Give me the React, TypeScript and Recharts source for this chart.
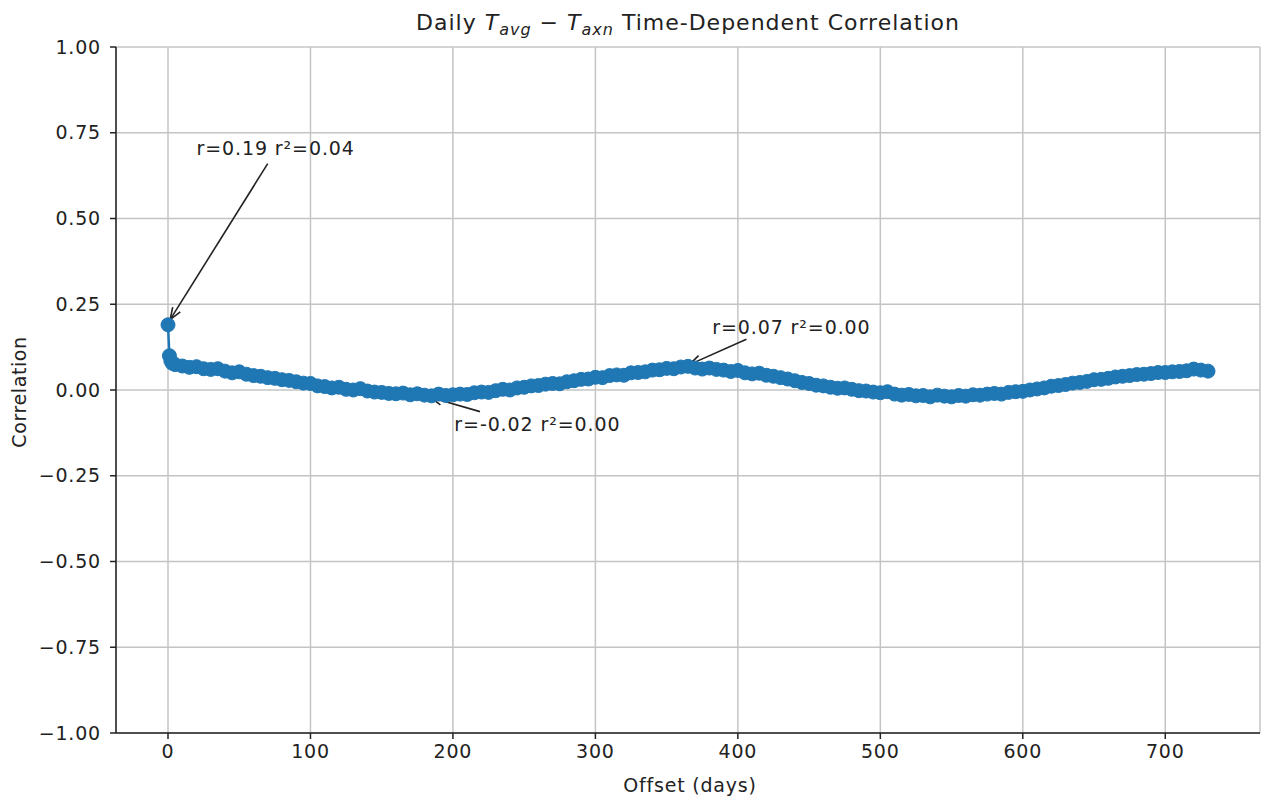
import React from "react";
import {
  CartesianGrid,
  Line,
  LineChart,
  ReferenceDot,
  ReferenceLine,
  XAxis,
  YAxis,
} from "recharts";

// offset in days, sampled from the plotted curve
const offsets = [
  0, 1, 2, 3,
  5, 10, 15, 20, 25, 30, 35, 40, 45, 50,
  55, 60, 65, 70, 75, 80, 85, 90, 95, 100,
  105, 110, 115, 120, 125, 130, 135, 140, 145, 150,
  155, 160, 165, 170, 175, 180, 185, 190, 195, 200,
  205, 210, 215, 220, 225, 230, 235, 240, 245, 250,
  255, 260, 265, 270, 275, 280, 285, 290, 295, 300,
  305, 310, 315, 320, 325, 330, 335, 340, 345, 350,
  355, 360, 365, 370, 375, 380, 385, 390, 395, 400,
  405, 410, 415, 420, 425, 430, 435, 440, 445, 450,
  455, 460, 465, 470, 475, 480, 485, 490, 495, 500,
  505, 510, 515, 520, 525, 530, 535, 540, 545, 550,
  555, 560, 565, 570, 575, 580, 585, 590, 595, 600,
  605, 610, 615, 620, 625, 630, 635, 640, 645, 650,
  655, 660, 665, 670, 675, 680, 685, 690, 695, 700,
  705, 710, 715, 720, 725, 730,
];

const correlation = [
  0.19, 0.1, 0.085, 0.078,
  0.074, 0.07, 0.066, 0.068, 0.062, 0.06, 0.062, 0.055, 0.05, 0.053,
  0.046, 0.042, 0.04, 0.036, 0.034, 0.03, 0.028, 0.024, 0.02, 0.019,
  0.012, 0.01, 0.006, 0.008, 0.002, 0.0, 0.004, -0.003, -0.006, -0.007,
  -0.01, -0.011, -0.009, -0.014, -0.011, -0.015, -0.017, -0.012, -0.016, -0.014,
  -0.012, -0.013, -0.008, -0.006, -0.007, -0.002, 0.002, 0.0, 0.006, 0.008,
  0.012, 0.013, 0.017, 0.019, 0.018, 0.024, 0.027, 0.031, 0.032, 0.037,
  0.036, 0.042, 0.044, 0.043, 0.05, 0.051, 0.053, 0.058, 0.059, 0.063,
  0.062, 0.067, 0.069, 0.064, 0.061, 0.064, 0.06, 0.058, 0.054, 0.057,
  0.05, 0.047, 0.049, 0.043, 0.04, 0.036, 0.032, 0.027, 0.022, 0.019,
  0.014, 0.012, 0.008, 0.005, 0.006, 0.002, -0.002, -0.003, -0.006, -0.008,
  -0.005, -0.012, -0.015, -0.013, -0.017, -0.016, -0.02, -0.015, -0.018, -0.02,
  -0.016, -0.018, -0.014, -0.015, -0.012, -0.01, -0.012, -0.007, -0.005, -0.004,
  0.0, 0.003, 0.006, 0.011, 0.013, 0.016, 0.02, 0.022, 0.025, 0.03,
  0.031, 0.034, 0.038, 0.04, 0.042, 0.045, 0.046, 0.048, 0.051, 0.051,
  0.053, 0.054, 0.056, 0.061, 0.058, 0.055,
];

const xTicks = [0, 100, 200, 300, 400, 500, 600, 700];
const yTicks = [-1, -0.75, -0.5, -0.25, 0, 0.25, 0.5, 0.75, 1];

// annotation text, where the text sits, where the arrow starts and where it points
const notes = [
  { text: "r=0.19 r²=0.04", tx: 20, ty: 0.705, from: [70, 0.66], to: [1.5, 0.205] },
  { text: "r=0.07 r²=0.00", tx: 382, ty: 0.185, from: [406, 0.148], to: [366, 0.074] },
  { text: "r=-0.02 r²=0.00", tx: 201, ty: -0.098, from: [219, -0.063], to: [184, -0.021] },
];

const data = offsets.map((d, i) => ({ offset: d, r: correlation[i] }));

const FONT = "'DejaVu Sans', Verdana, sans-serif";
const BLUE = "#1f77b4";
const INK = "#222";

const fmt = (v: number) => {
  const s = Math.abs(v).toFixed(2);
  return v < 0 ? "\u2212" + s : s;
};

function Arrow(props: any) {
  const { x1, y1, x2, y2 } = props;
  const a = Math.atan2(y2 - y1, x2 - x1);
  const len = 12;
  const w = 4.5;
  const bx = x2 - len * Math.cos(a);
  const by = y2 - len * Math.sin(a);
  const px = -Math.sin(a) * w;
  const py = Math.cos(a) * w;
  return (
    <g>
      <line x1={x1} y1={y1} x2={x2} y2={y2} stroke={INK} strokeWidth={1.6} />
      <path
        d={`M${bx + px},${by + py} L${x2},${y2} L${bx - px},${by - py}`}
        fill="none"
        stroke={INK}
        strokeWidth={1.6}
      />
    </g>
  );
}

const tickStyle = { fill: INK, fontSize: 19, fontFamily: FONT, letterSpacing: 0.8 };

export default function App() {
  return (
    <div style={{ position: "absolute", left: 0, top: 0, width: 1262, height: 796, background: "#fff", fontFamily: FONT }}>
      <div
        style={{
          position: "absolute",
          left: 116,
          width: 1144,
          top: 10,
          textAlign: "center",
          fontSize: 22,
          letterSpacing: 1,
          color: INK,
          whiteSpace: "nowrap",
        }}
      >
        Daily <i>T</i>
        <sub style={{ fontSize: 16, fontStyle: "italic" }}>avg</sub> − <i>T</i>
        <sub style={{ fontSize: 16, fontStyle: "italic" }}>axn</sub> Time-Dependent Correlation
      </div>
      <div
        style={{
          position: "absolute",
          left: 19,
          top: 392,
          transform: "translate(-50%, -50%) rotate(-90deg)",
          fontSize: 19,
          letterSpacing: 0.6,
          color: INK,
          whiteSpace: "nowrap",
        }}
      >
        Correlation
      </div>
      <div
        style={{
          position: "absolute",
          left: 690,
          top: 785,
          transform: "translate(-50%, -50%)",
          fontSize: 19,
          letterSpacing: 0.8,
          color: INK,
          whiteSpace: "nowrap",
        }}
      >
        Offset (days)
      </div>
      <LineChart
        width={1262}
        height={796}
        data={data}
        margin={{ top: 47, right: 2, bottom: 23, left: 56 }}
        style={{ position: "absolute", left: 0, top: 0 }}
      >
        <CartesianGrid stroke="#c4c4c4" strokeWidth={1.5} />
        <XAxis
          dataKey="offset"
          type="number"
          domain={[-36.5, 766.5]}
          ticks={xTicks}
          allowDataOverflow
          height={40}
          tickSize={6}
          tickMargin={6}
          stroke={INK}
          strokeWidth={1.5}
          tick={tickStyle}
        />
        <XAxis xAxisId="top" orientation="top" type="number" domain={[-36.5, 766.5]} height={0} tick={false} tickLine={false} stroke={INK} strokeWidth={1.5} />
        <YAxis
          type="number"
          domain={[-1, 1]}
          ticks={yTicks}
          width={60}
          tickSize={6}
          tickMargin={9}
          tickFormatter={fmt}
          stroke={INK}
          strokeWidth={1.5}
          tick={tickStyle}
        />
        <YAxis yAxisId="right" orientation="right" domain={[-1, 1]} width={0} tick={false} tickLine={false} stroke={INK} strokeWidth={1.5} />
        <Line
          dataKey="r"
          stroke={BLUE}
          strokeWidth={2.5}
          dot={{ r: 7, fill: BLUE, stroke: BLUE, strokeWidth: 1 }}
          isAnimationActive={false}
        />
        {notes.map((n) => (
          <ReferenceLine
            key={n.text + "-arrow"}
            segment={[
              { x: n.from[0], y: n.from[1] },
              { x: n.to[0], y: n.to[1] },
            ]}
            shape={Arrow}
          />
        ))}
        {notes.map((n) => (
          <ReferenceDot
            key={n.text}
            x={n.tx}
            y={n.ty}
            r={0}
            shape={(p: any) => (
              <text
                x={p.cx}
                y={p.cy}
                dominantBaseline="central"
                fontSize={19}
                fontFamily={FONT}
                letterSpacing={0.9}
                fill={INK}
              >
                {n.text}
              </text>
            )}
          />
        ))}
      </LineChart>
    </div>
  );
}
